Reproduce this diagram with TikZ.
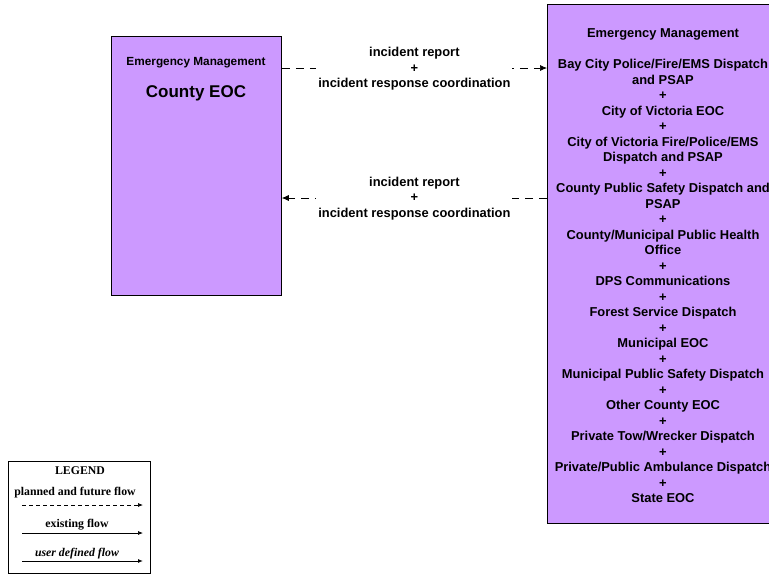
\documentclass[tikz,border=0pt]{standalone}
\usepackage{fontspec}
\setmainfont{Liberation Sans}
\newfontfamily\legfont{Liberation Serif}
\usetikzlibrary{arrows.meta}
\definecolor{boxfill}{RGB}{204,153,255}
\begin{document}
\begin{tikzpicture}[x=1pt,y=-1pt,
  box/.style={draw=black, fill=boxfill, line width=0.8pt, inner sep=0pt},
  flow/.style={dash pattern=on 8pt off 6pt, -{Latex[length=7pt,width=6pt]}, line width=0.7pt},
  lbl/.style={fill=white, align=center, font=\bfseries\fontsize{12.9}{15.5}\selectfont, inner sep=2pt},
  legtxt/.style={font=\legfont\bfseries\fontsize{11.8}{13}\selectfont, inner sep=0pt},
  legarrow/.style={line width=0.7pt, -{Latex[length=5pt,width=4pt]}},
]
\useasboundingbox (0,0) rectangle (769,574);
\clip (0,0) rectangle (769,574);

% boxes
\node[box, minimum width=170pt, minimum height=259pt, anchor=north west] (cty) at (111,36) {};
\node[box, minimum width=232pt, minimum height=519pt, anchor=north west] (em) at (547,4) {};

\node[font=\bfseries\fontsize{11.8}{13}\selectfont, inner sep=0pt] (ctyt) at (196,62.5) {Emergency Management};
\node[font=\bfseries\fontsize{17}{19}\selectfont, inner sep=0pt] (ctyn) at (196,93) {County EOC};

\node[font=\bfseries\fontsize{12.9}{15.5}\selectfont, align=center, anchor=north, inner sep=0pt] (emt) at (663,28.5)
{Emergency Management\\[15.5pt]
Bay City Police/Fire/EMS Dispatch\\and PSAP\\+\\City of Victoria EOC\\+\\
City of Victoria Fire/Police/EMS\\Dispatch and PSAP\\+\\
County Public Safety Dispatch and\\PSAP\\+\\
County/Municipal Public Health\\Office\\+\\
DPS Communications\\+\\Forest Service Dispatch\\+\\Municipal EOC\\+\\
Municipal Public Safety Dispatch\\+\\Other County EOC\\+\\
Private Tow/Wrecker Dispatch\\+\\Private/Public Ambulance Dispatch\\+\\State EOC};

% flows
\draw[flow] (cty.east |- 0,68) -- node[lbl, yshift=-1pt] (l1) {incident report\\+\\incident response coordination} (em.west |- 0,68);
\draw[flow] (em.west |- 0,198) -- node[lbl, yshift=-0.5pt] (l2) {incident report\\+\\incident response coordination} (cty.east |- 0,198);

% legend
\node[draw=black, line width=0.8pt, fill=white, minimum width=142pt, minimum height=112pt, anchor=north west, inner sep=0pt] (leg) at (8,461) {};
\node[legtxt] (legt) at (80,471) {LEGEND};
\node[legtxt] (lgp) at (75,493) {planned and future flow};
\coordinate (pa) at (22,505); \coordinate (pb) at (143,505);
\draw[legarrow, dash pattern=on 4pt off 3pt] (pa) -- (pb);
\node[legtxt] (lge) at (77,525) {existing flow};
\coordinate (ea) at (22,533); \coordinate (eb) at (143,533);
\draw[legarrow] (ea) -- (eb);
\node[legtxt, font=\legfont\bfseries\itshape\fontsize{11.8}{13}\selectfont] (lgu) at (77,554) {user defined flow};
\coordinate (ua) at (22,561); \coordinate (ub) at (143,561);
\draw[legarrow, line width=1pt] (ua) -- (ub);
\end{tikzpicture}
\end{document}
